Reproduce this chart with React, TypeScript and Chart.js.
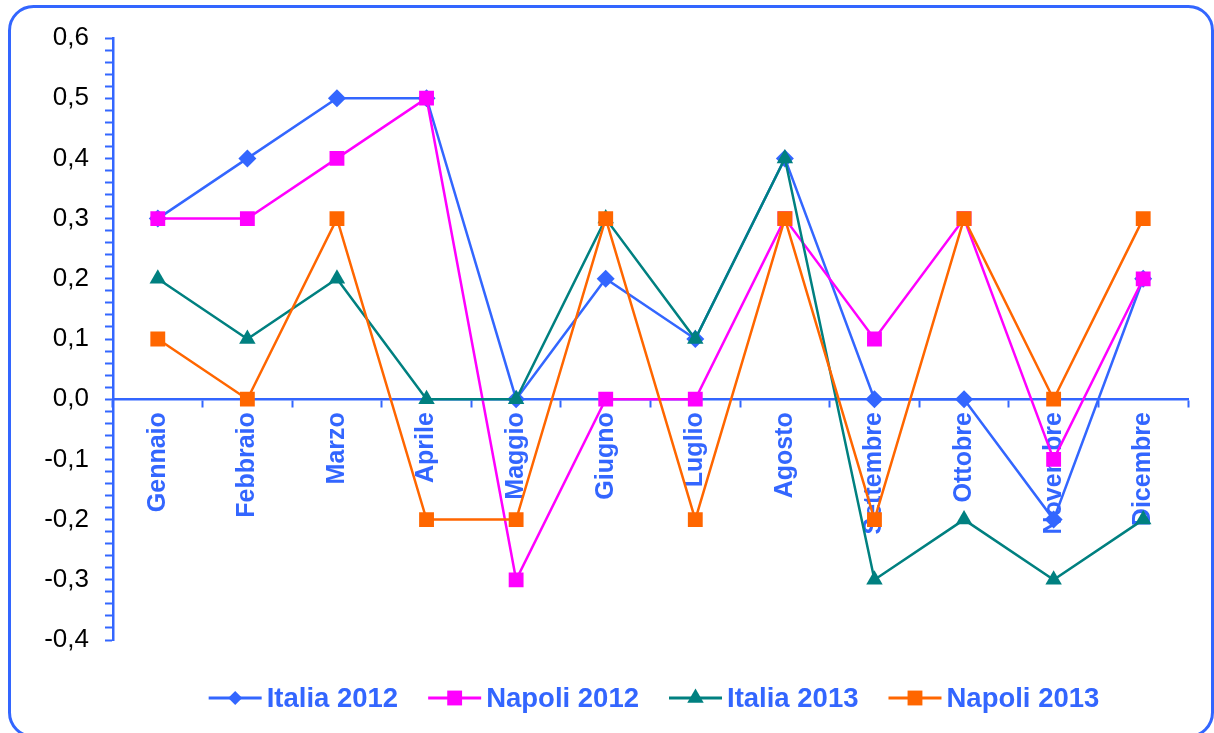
import React, { useEffect, useRef } from 'react';
import { Chart, registerables } from 'chart.js';

Chart.register(...registerables);

// ---- data ----
const months = ['Gennaio', 'Febbraio', 'Marzo', 'Aprile', 'Maggio', 'Giugno', 'Luglio', 'Agosto', 'Settembre', 'Ottobre', 'Novembre', 'Dicembre'];
const italia2012 = [0.3, 0.4, 0.5, 0.5, 0.0, 0.2, 0.1, 0.4, 0.0, 0.0, -0.2, 0.2];
const napoli2012 = [0.3, 0.3, 0.4, 0.5, -0.3, 0.0, 0.0, 0.3, 0.1, 0.3, -0.1, 0.2];
const italia2013 = [0.2, 0.1, 0.2, 0.0, 0.0, 0.3, 0.1, 0.4, -0.3, -0.2, -0.3, -0.2];
const napoli2013 = [0.1, 0.0, 0.3, -0.2, -0.2, 0.3, -0.2, 0.3, -0.2, 0.3, 0.0, 0.3];
const seriesNames = ['Italia 2012', 'Napoli 2012', 'Italia 2013', 'Napoli 2013'];
const yMin = -0.4;
const yMax = 0.6;
const yMinorStep = 0.02;

// ---- styles ----
const BLUE = '#3366FF';
const MAGENTA = '#FF00FF';
const TEAL = '#008080';
const ORANGE = '#FF6600';
const FONT = "'Liberation Sans', Arial, sans-serif";

const seriesStyles = [
  { color: BLUE, point: 'rectRot', radius: 9, legendR: 7 },
  { color: MAGENTA, point: 'rect', radius: 10.5, legendR: 10.5 },
  { color: TEAL, point: 'triangle', radius: 9.5, legendR: 9.5 },
  { color: ORANGE, point: 'rect', radius: 10.5, legendR: 10.5 },
];
const seriesValues = [italia2012, napoli2012, italia2013, napoli2013];

function drawMarker(ctx: CanvasRenderingContext2D, style: string, x: number, y: number, r: number, color: string) {
  ctx.fillStyle = color;
  ctx.beginPath();
  if (style === 'rectRot') {
    ctx.moveTo(x, y - r);
    ctx.lineTo(x + r, y);
    ctx.lineTo(x, y + r);
    ctx.lineTo(x - r, y);
  } else if (style === 'rect') {
    const s = r * Math.SQRT1_2;
    ctx.rect(x - s, y - s, 2 * s, 2 * s);
  } else {
    for (let i = 0; i < 3; i++) {
      const a = (i * 2 * Math.PI) / 3;
      const px = x + Math.sin(a) * r;
      const py = y - Math.cos(a) * r;
      if (i === 0) ctx.moveTo(px, py);
      else ctx.lineTo(px, py);
    }
  }
  ctx.closePath();
  ctx.fill();
}

const framePlugin = {
  id: 'frame',
  beforeDraw(chart: any) {
    const ctx = chart.ctx as CanvasRenderingContext2D;
    ctx.save();
    ctx.strokeStyle = BLUE;
    ctx.lineWidth = 3;
    ctx.beginPath();
    (ctx as any).roundRect(9.5, 6.5, 1203, 730, 24);
    ctx.stroke();
    ctx.restore();
  },
};

const legendPlugin = {
  id: 'customLegend',
  afterDraw(chart: any) {
    const ctx = chart.ctx as CanvasRenderingContext2D;
    ctx.save();
    ctx.font = `bold 27.5px ${FONT}`;
    const lineLen = 53;
    const gap = 5;
    const spacing = 30;
    const widths = seriesNames.map((n) => ctx.measureText(n).width);
    const total = widths.reduce((a, b) => a + b, 0) + seriesNames.length * (lineLen + gap) + (seriesNames.length - 1) * spacing;
    let x = 654 - total / 2;
    const y = 698;
    seriesNames.forEach((name, i) => {
      const st = seriesStyles[i];
      ctx.strokeStyle = st.color;
      ctx.lineWidth = 3;
      ctx.beginPath();
      ctx.moveTo(x, y);
      ctx.lineTo(x + lineLen, y);
      ctx.stroke();
      drawMarker(ctx, st.point, x + lineLen / 2, y, st.legendR, st.color);
      ctx.fillStyle = BLUE;
      ctx.textAlign = 'left';
      ctx.textBaseline = 'middle';
      ctx.fillText(name, x + lineLen + gap, y + 1);
      x += lineLen + gap + widths[i] + spacing;
    });
    ctx.restore();
  },
};

export default function App() {
  const canvasRef = useRef<HTMLCanvasElement | null>(null);

  useEffect(() => {
    if (!canvasRef.current) return;
    const chart = new Chart(canvasRef.current, {
      type: 'line',
      data: {
        labels: months,
        datasets: seriesNames.map((name, i) => ({
          label: name,
          data: seriesValues[i],
          borderColor: seriesStyles[i].color,
          backgroundColor: seriesStyles[i].color,
          borderWidth: 2.5,
          pointStyle: seriesStyles[i].point as any,
          pointRadius: seriesStyles[i].radius,
          pointHoverRadius: seriesStyles[i].radius,
          pointBorderWidth: 0,
          pointBackgroundColor: seriesStyles[i].color,
          tension: 0,
          fill: false,
          order: seriesNames.length - i,
        })),
      },
      options: {
        animation: false,
        responsive: false,
        layout: { padding: { left: 43, top: 38, right: 26, bottom: 93 } },
        plugins: {
          legend: { display: false },
          tooltip: { enabled: false },
        },
        scales: {
          x: {
            type: 'category',
            position: { y: 0 } as any,
            offset: true,
            grid: {
              display: true,
              offset: true,
              drawOnChartArea: false,
              drawTicks: true,
              tickLength: 7,
              tickWidth: 2,
              color: BLUE,
            },
            border: { display: true, color: BLUE, width: 2.5 },
            ticks: {
              autoSkip: false,
              minRotation: 90,
              maxRotation: 90,
              padding: 6,
              color: BLUE,
              font: { family: FONT, size: 25, weight: 'bold' },
            },
          },
          y: {
            type: 'linear',
            min: yMin,
            max: yMax,
            afterFit(scale: any) {
              scale.width = 70;
            },
            grid: {
              display: true,
              drawOnChartArea: false,
              drawTicks: true,
              tickLength: 8,
              tickWidth: 2,
              color: BLUE,
            },
            border: { display: true, color: BLUE, width: 2.5 },
            ticks: {
              stepSize: yMinorStep,
              autoSkip: false,
              padding: 16,
              color: '#000000',
              font: { family: FONT, size: 26 },
              callback: (v: any) => {
                const n = Number(v) * 10;
                if (Math.abs(n - Math.round(n)) > 1e-6) return '';
                return (Math.round(n) / 10).toFixed(1).replace('.', ',');
              },
            },
          },
        },
      },
      plugins: [framePlugin, legendPlugin],
    });
    return () => chart.destroy();
  }, []);

  return (
    <div style={{ position: 'absolute', left: 0, top: 0, width: 1214, height: 733, background: '#ffffff' }}>
      <canvas ref={canvasRef} width={1214} height={733} style={{ display: 'block' }} />
    </div>
  );
}
